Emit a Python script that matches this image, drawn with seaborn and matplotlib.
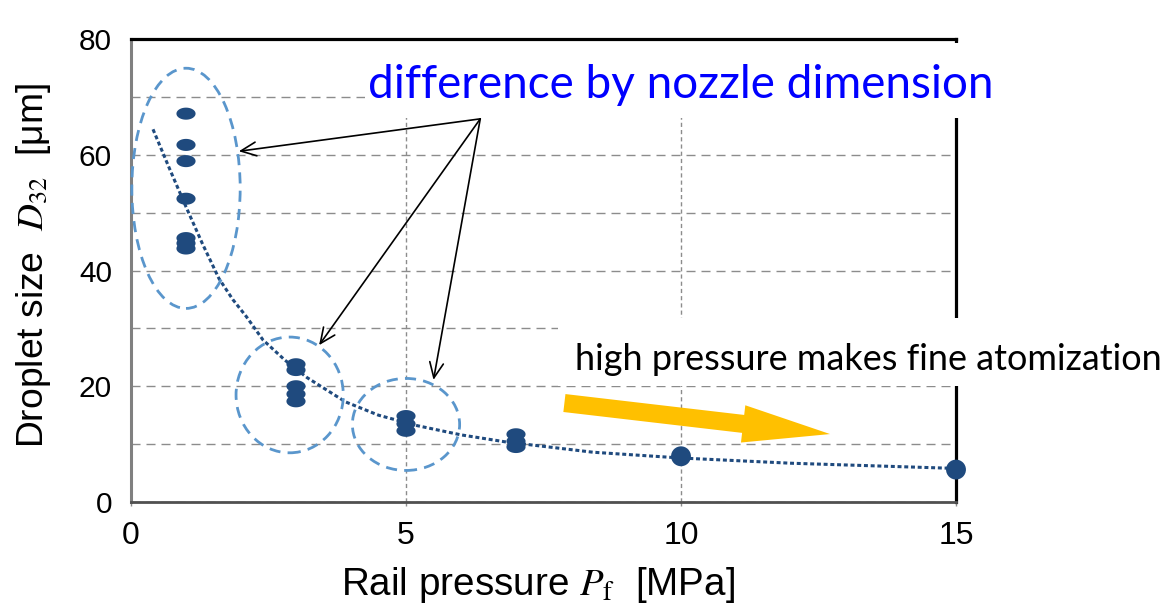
import numpy as np
import pandas as pd
import matplotlib
matplotlib.use("Agg")
import matplotlib.pyplot as plt
import seaborn as sns
from matplotlib.patches import Ellipse, Rectangle, FancyArrowPatch, ArrowStyle
from matplotlib.path import Path
from matplotlib.ticker import MultipleLocator

# ---------------- data ----------------
rail_pressure = [1, 1, 1, 1, 1, 1, 1,
                 3, 3, 3, 3, 3,
                 5, 5, 5,
                 7, 7, 7]
droplet_size = [67.1, 61.7, 58.9, 52.4, 45.6, 44.7, 43.8,
                23.8, 22.8, 20.0, 18.65, 17.4,
                14.85, 13.5, 12.3,
                11.7, 10.5, 9.5]
rail_pressure_high = [10, 15]
droplet_size_high = [7.9, 5.6]

fit_pressure = [0.4, 0.7, 1.0, 1.3, 1.6, 1.85, 2.1, 2.4, 2.8, 3.2, 3.9, 4.5, 5.2, 6.0, 6.8, 8.4, 10, 12, 15]
fit_size = [64.4, 57.6, 51.0, 44.6, 38.6, 35.0, 32.0, 28.0, 24.5, 21.5, 17.3, 15.0, 13.2, 11.6, 10.4, 8.6, 7.6, 6.7, 5.8]

x_ticks = [0, 5, 10, 15]
y_ticks = [0, 20, 40, 60, 80]

# groups circled (center x, center y, width, height) in data units
group_ellipses = [(1.0, 54.2, 1.97, 41.5), (2.885, 18.5, 1.95, 20.0), (5.0, 13.4, 1.95, 15.9)]
callout_origin = (6.35, 66.2)
callout_tips = [(1.96, 60.6), (3.42, 27.1), (5.5, 21.1)]
trend_arrow = [(7.88, 17.1), (12.71, 11.74)]

W, H = 1165, 606
sns.set_theme(style="white")
plt.rcParams["font.family"] = ["Liberation Sans", "DejaVu Sans"]
plt.rcParams["mathtext.fontset"] = "stix"

fig = plt.figure(figsize=(W / 100, H / 100), dpi=100)
ax = fig.add_axes([131 / W, 1 - 502 / H, (956 - 131) / W, (502 - 39) / H])

dark_blue = "#1f4a7e"

# fitted dotted curve
sns.lineplot(x=fit_pressure, y=fit_size, ax=ax, estimator=None, sort=False,
             color=dark_blue, lw=2.2, linestyle=(0, (1.3, 0.9)), zorder=3)
ax.lines[-1].set_dash_capstyle("butt")

# flat-ellipse markers
theta = np.linspace(0, 2 * np.pi, 64)
ell_marker = Path(np.column_stack([np.cos(theta), 0.63 * np.sin(theta)]), closed=True)
sns.scatterplot(x=rail_pressure, y=droplet_size, ax=ax, marker=ell_marker, s=190,
                color=dark_blue, edgecolor="none", linewidth=0, zorder=4, clip_on=False)
sns.scatterplot(x=rail_pressure_high, y=droplet_size_high, ax=ax, marker="o", s=205,
                color=dark_blue, edgecolor="none", linewidth=0, zorder=4, clip_on=False)

# dashed ellipses
for cx, cy, ew, eh in group_ellipses:
    ax.add_patch(Ellipse((cx, cy), ew, eh, fill=False, edgecolor="#5a96cc",
                         lw=2.0, linestyle=(0, (4, 2.6)), zorder=3, clip_on=False))

# callout arrows
for tip in callout_tips:
    ax.annotate("", xy=tip, xytext=callout_origin,
                arrowprops=dict(arrowstyle="->,head_length=1.0,head_width=0.45",
                                color="black", lw=1.2, shrinkA=0, shrinkB=0,
                                mutation_scale=11))

# yellow trend arrow
ax.add_patch(FancyArrowPatch(trend_arrow[0], trend_arrow[1],
                             arrowstyle=ArrowStyle.Simple(head_length=6.3, head_width=2.7, tail_width=1.3),
                             mutation_scale=10, color="#ffc000", lw=0, shrinkA=0, shrinkB=0, zorder=3))

# axes
ax.set_xlim(0, 15)
ax.set_ylim(0, 80)
ax.set_xticks(x_ticks)
ax.set_yticks(y_ticks)
ax.yaxis.set_minor_locator(MultipleLocator(10))
ax.set_axisbelow(True)
ax.yaxis.grid(True, which="both", color="#8c8c8c", lw=1.0, linestyle=(0, (6.5, 4.3)))
ax.xaxis.grid(True, which="major", color="#8c8c8c", lw=1.0, linestyle=(0, (3, 2.2)))
ax.tick_params(axis="x", which="major", length=3, width=1, color="#8c8c8c",
               direction="out", pad=11, labelsize=23, bottom=True)
ax.tick_params(axis="y", which="both", length=0, pad=13.7, labelsize=21.5, left=True)
for lab in ax.get_xticklabels() + ax.get_yticklabels():
    lab.set_color("black")

for side in ["top", "right"]:
    ax.spines[side].set_color("black")
    ax.spines[side].set_linewidth(2.3)
ax.spines["left"].set_color("#808080")
ax.spines["left"].set_linewidth(2.2)
ax.spines["bottom"].set_color("#505050")
ax.spines["bottom"].set_linewidth(2.0)

ax.set_xlabel(r"Rail pressure $P_{\mathrm{f}}$  [MPa]", fontsize=27.8, va="baseline", color="black")
ax.xaxis.set_label_coords((538 - 131) / 825, -(595 - 502) / 463)
ax.set_ylabel(r"Droplet size  $D_{32}$  [μm]", fontsize=26.8, va="baseline", color="black")
ax.yaxis.set_label_coords((43 - 131) / 825, (502 - 265) / 463)

# white boxes behind annotations (cover grid / frame like the original)
fig.add_artist(Rectangle((365 / W, 1 - 118 / H), 635 / W, 75 / H, transform=fig.transFigure,
                         facecolor="white", edgecolor="none", zorder=1))
fig.add_artist(Rectangle((558 / W, 1 - 386 / H), (W - 558) / W, 68 / H, transform=fig.transFigure,
                         facecolor="white", edgecolor="none", zorder=1))

fig.text(680.5 / W, 1 - 98.5 / H, "difference by nozzle dimension", color="#0000ff",
         fontsize=33, family=["Lato", "DejaVu Sans"], ha="center", va="baseline", zorder=2)
fig.text(575 / W, 1 - 370 / H, "high pressure makes fine atomization", color="black",
         fontsize=25.9, family=["Lato", "DejaVu Sans"], ha="left", va="baseline", zorder=2)

fig.savefig("out.png", dpi=100)
